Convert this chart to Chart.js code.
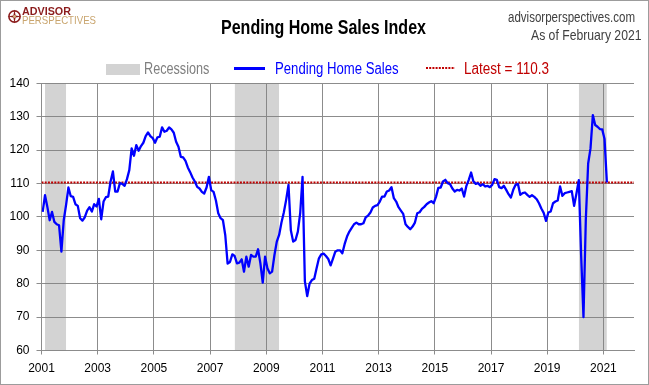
<!DOCTYPE html>
<html>
<head>
<meta charset="utf-8">
<script src="https://cdn.jsdelivr.net/npm/chart.js@4.4.1/dist/chart.umd.min.js"></script>
<style>
  html, body { margin: 0; padding: 0; background: #fff; }
  #wrap { position: relative; width: 649px; height: 385px; overflow: hidden; background: #fff;
          font-family: "Liberation Sans Narrow", "Liberation Sans", Arial, sans-serif; }
  #c { position: absolute; left: 0; top: 0; }
  .t { position: absolute; white-space: nowrap; line-height: 1; transform-origin: 0 0; }
  #frame { position: absolute; left: 0; top: 0; width: 647px; height: 383px; border: 1px solid #9c9c9c; pointer-events: none; }
  .sw { position: absolute; }
</style>
</head>
<body>
<div id="wrap">
  <canvas id="c" width="649" height="385"></canvas>

  <svg class="sw" style="left:7px;top:9px" width="15" height="15" viewBox="0 0 15 15">
    <circle cx="7.5" cy="7.5" r="5.6" fill="none" stroke="#8b1c1c" stroke-width="1.6"/>
    <polygon points="7.5,0.5 8.6,6.4 14.5,7.5 8.6,8.6 7.5,14.5 6.4,8.6 0.5,7.5 6.4,6.4" fill="#8b1c1c"/>
    <circle cx="7.5" cy="7.5" r="1.4" fill="#d4b07a"/>
  </svg>
  <div class="t" id="logoA" data-w="49" style="left:22px;top:5.7px;font-family:'Liberation Sans',Arial,sans-serif;font-weight:bold;font-size:11px;color:#8b1c1c">ADVISOR</div>
  <div class="t" id="logoP" data-w="74" style="left:22px;top:14.7px;font-size:11px;color:#c9a56e">PERSPECTIVES</div>

  <div class="t" id="title" data-w="205" style="left:221.4px;top:17.5px;font-weight:bold;font-size:19.5px;color:#000">Pending Home Sales Index</div>
  <div class="t" id="site" data-w="127" style="left:508px;top:10px;font-size:14px;color:#404040">advisorperspectives.com</div>
  <div class="t" id="asof" data-w="110.5" style="left:531px;top:28.2px;font-size:14.5px;color:#404040">As of February 2021</div>

  <div class="sw" style="left:105.5px;top:64px;width:34px;height:10.5px;background:#d3d3d3"></div>
  <div class="t" id="lg1" data-w="65.4" style="left:143.6px;top:61px;font-size:16px;color:#7f7f7f">Recessions</div>
  <div class="sw" style="left:234px;top:67px;width:31px;height:3px;background:#0000ff"></div>
  <div class="t" id="lg2" data-w="123.6" style="left:275px;top:61px;font-size:16px;color:#0000ff">Pending Home Sales</div>
  <svg class="sw" style="left:426px;top:67px" width="29" height="2"><line x1="0" y1="1" x2="29" y2="1" stroke="#c00000" stroke-width="2" stroke-dasharray="2,1.2"/></svg>
  <div class="t" id="lg3" data-w="85" style="left:463.6px;top:61px;font-size:16px;color:#c00000">Latest = 110.3</div>

  <div id="frame"></div>
</div>

<script>
// ---------------- data ----------------
const startYear = 2001;          // first observation: January 2001
const startMonth = 1;
// Pending Home Sales Index, monthly, Jan 2001 .. Feb 2021
const pendingHomeSales = [
  101.5, 106.5, 103, 99, 101.5, 98.5, 97.8, 97.5, 89.6, 99, 103.6, 108.8,          // 2001
  106.2, 106, 103.8, 103.3, 99.6, 98.9, 99.9, 101.9, 102.9, 101.6, 103.8, 103.1,   // 2002
  105.4, 99.3, 104.6, 105.9, 106.1, 110.6, 113.6, 107.6, 107.6, 110.1, 109.9, 109.3, // 2003
  111.3, 114, 120.5, 118.3, 121.5, 119.8, 121.2, 122.2, 124.2, 125.3, 124.2, 123.6, // 2004
  122.2, 123.8, 124, 126.8, 125.5, 125.8, 126.8, 126.2, 125.2, 122.5, 121, 118,     // 2005
  117.8, 116.8, 114.8, 113.4, 111.8, 110.6, 109, 108.5, 107.5, 107, 108.8, 112,     // 2006
  108, 107.5, 104.9, 101.1, 99.6, 99, 94.5, 86, 86.5, 88.8, 88.3, 86.1,             // 2007
  86.3, 87.3, 83.6, 88.1, 85.1, 88.6, 88.1, 88.1, 90.3, 86.1, 80.3, 88.1,           // 2008
  84.6, 83.1, 83.6, 88.6, 92.6, 94.6, 98.3, 101.3, 105.1, 109.6, 96, 92.6,          // 2009
  93.1, 95.6, 101.1, 112, 80.7, 76.3, 80, 81.1, 81.5, 84.6, 87.6, 88.8,             // 2010
  89, 88.3, 87.4, 85.5, 87.5, 89.6, 90, 90, 89.1, 91.9, 94.1, 95.6,                 // 2011
  96.7, 97.8, 98.3, 97.8, 97.8, 98.1, 99.9, 100.4, 101.3, 102.8, 103.3, 103.5,      // 2012
  104.6, 106.1, 106.1, 107.6, 107.9, 108.9, 105.6, 104.6, 102.9, 101.9, 100.9, 97.8, // 2013
  97, 96.3, 97.1, 98.3, 101.1, 101.4, 102.4, 103, 103.8, 104.3, 104.7, 104.1,       // 2014
  106, 108.7, 108.8, 110.6, 111.1, 110.1, 109.8, 108.5, 107.6, 108.1, 107.9, 108.5, // 2015
  106.1, 109.3, 111.1, 113.3, 110.6, 109.9, 110.1, 109.3, 109.8, 109.1, 109.3, 108.9, // 2016
  109.6, 111.3, 111.1, 108.9, 108.6, 109.3, 108.1, 106.8, 105.8, 108.1, 109.6, 109.9, // 2017
  106.6, 107.1, 107.3, 106.6, 106, 106.5, 106, 105.3, 104.1, 102.5, 101.2, 98.8,    // 2018
  101.3, 101.6, 104.1, 104.6, 104.9, 109.1, 106.3, 107.1, 107.3, 107.5, 107.7, 103.3, // 2019
  107, 111, 88.5, 70, 99.2, 116, 120.5, 130.5, 127.5, 127, 126.3, 126.2,            // 2020
  123.3, 110.3                                                                      // 2021
];
const latestValue = 110.3;
const recessions = [
  ['2001-02', '2001-11'],
  ['2007-11', '2009-06'],
  ['2020-02', '2021-02']
];
const xTickYears = [2001, 2003, 2005, 2007, 2009, 2011, 2013, 2015, 2017, 2019, 2021];
const yTickValues = [60, 70, 80, 90, 100, 110, 120, 130, 140];
const X_MIN = 2001, X_MAX = 2022.09;
const Y_MIN = 60, Y_MAX = 140;

// ---------------- helpers ----------------
const monthToX = (s) => { const [y, m] = s.split('-').map(Number); return y + (m - 0.5) / 12; };
const mainPoints = pendingHomeSales.map((v, i) => ({ x: startYear + (startMonth - 1 + i + 0.5) / 12, y: v }));
const gridColor = '#8c8c8c';
const tickFont = { family: "'Liberation Sans', Arial, sans-serif", size: 12 };

const recessionSets = recessions.map(([a, b]) => ({
  label: 'Recessions',
  data: [{ x: monthToX(a), y: Y_MAX }, { x: monthToX(b), y: Y_MAX }],
  borderWidth: 0,
  borderColor: 'rgba(0,0,0,0)',
  backgroundColor: 'rgba(128,128,128,0.35)',
  fill: 'start',
  pointRadius: 0,
  order: 3
}));

new Chart(document.getElementById('c'), {
  type: 'line',
  data: {
    datasets: [
      {
        label: 'Pending Home Sales',
        data: mainPoints,
        borderColor: '#0000ff',
        borderWidth: 2.3,
        borderJoinStyle: 'round',
        pointRadius: 0,
        tension: 0,
        fill: false,
        order: 0
      },
      {
        label: 'Latest = ' + latestValue,
        data: [{ x: X_MIN, y: latestValue }, { x: X_MAX, y: latestValue }],
        borderColor: '#c00000',
        borderWidth: 2,
        borderDash: [2, 1.2],
        pointRadius: 0,
        fill: false,
        order: 1
      },
      ...recessionSets
    ]
  },
  options: {
    responsive: false,
    animation: false,
    devicePixelRatio: 1,
    events: [],
    layout: { padding: { left: 0, right: 15, top: 83.3, bottom: 0 } },
    plugins: { legend: { display: false }, title: { display: false }, tooltip: { enabled: false } },
    scales: {
      x: {
        type: 'linear',
        min: X_MIN,
        max: X_MAX,
        afterBuildTicks: (s) => { s.ticks = xTickYears.map(v => ({ value: v })); },
        afterFit: (s) => { s.height = 34.5; },
        grid: { color: gridColor, lineWidth: 1, tickLength: 4, drawTicks: true },
        border: { color: gridColor, width: 1 },
        ticks: { font: tickFont, color: '#000', padding: 7, maxRotation: 0, autoSkip: false,
                 callback: (v) => String(v) }
      },
      y: {
        min: Y_MIN,
        max: Y_MAX,
        afterBuildTicks: (s) => { s.ticks = yTickValues.map(v => ({ value: v })); },
        afterFit: (s) => { s.width = 41.5; },
        grid: { color: gridColor, lineWidth: 1, tickLength: 5, drawTicks: true },
        border: { color: gridColor, width: 1 },
        ticks: { font: tickFont, color: '#000', padding: 7, callback: (v) => String(v) }
      }
    }
  }
});

// fit header texts to the reference widths
document.querySelectorAll('.t[data-w]').forEach(el => {
  const target = parseFloat(el.dataset.w);
  const w = el.getBoundingClientRect().width;
  if (w > 0) el.style.transform = 'scaleX(' + (target / w).toFixed(4) + ')';
});
</script>
</body>
</html>
